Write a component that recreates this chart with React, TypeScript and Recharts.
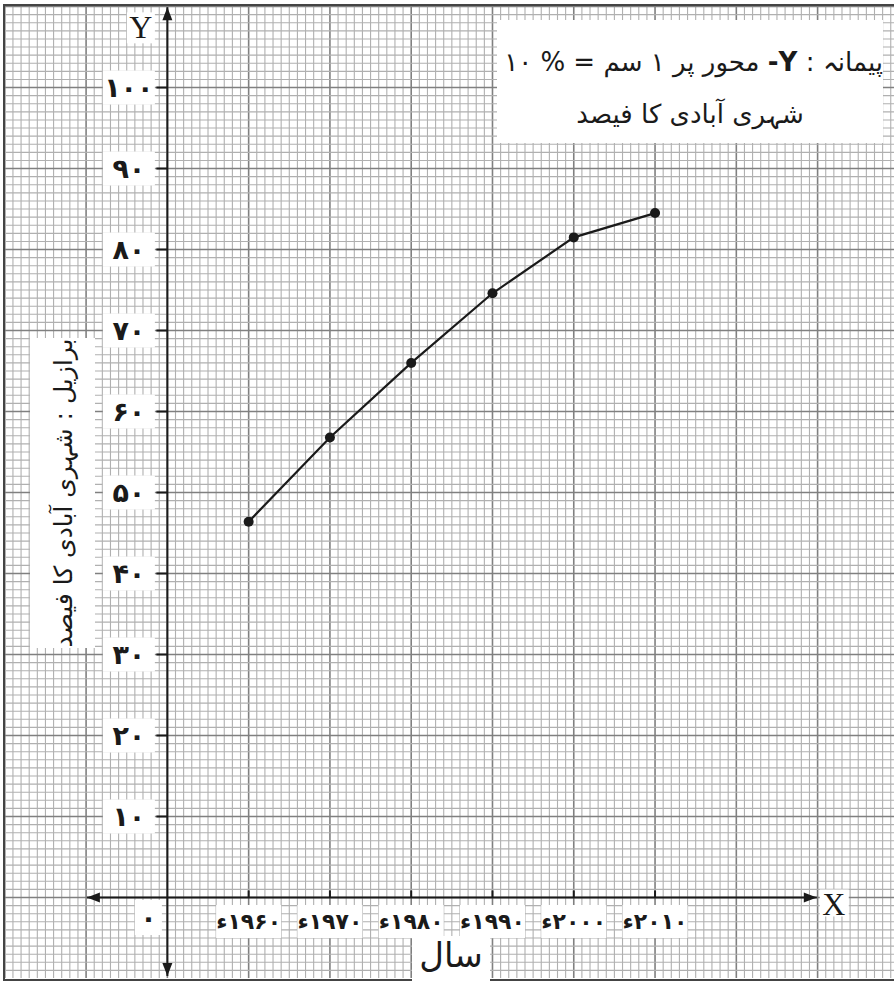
import React from 'react'
import {
  ComposedChart,
  Line,
  XAxis,
  YAxis,
  ReferenceLine,
  ReferenceDot,
} from 'recharts'

// Brazil: urban population share (%)
const years = [1960, 1970, 1980, 1990, 2000, 2010]
const urbanShare = [46.4, 56.8, 66.0, 74.6, 81.5, 84.5]
const yearLabels = ['۱۹۶۰ء', '۱۹۷۰ء', '۱۹۸۰ء', '۱۹۹۰ء', '۲۰۰۰ء', '۲۰۱۰ء']

const yTicks = [10, 20, 30, 40, 50, 60, 70, 80, 90, 100]
const yTickLabels = ['۱۰', '۲۰', '۳۰', '۴۰', '۵۰', '۶۰', '۷۰', '۸۰', '۹۰', '۱۰۰']
const originLabel = '۰'

const titleLine1 = 'پیمانہ : '
const titleAxis = 'Y-'
const titleLine1b = ' محور پر ۱ سم = % ۱۰'
const titleLine2 = 'شہری آبادی کا فیصد'
const yAxisTitle = 'برازیل : شہری آبادی کا فیصد'
const xAxisTitle = 'سال'

const ORIGIN_X = 1950
const X_DOMAIN: [number, number] = [1929.9, 2039.4]
const Y_DOMAIN: [number, number] = [-9.94, 110.19]
const X_ARROWS = [1940.1, 2029.9]
const Y_ARROWS = [-9.7, 109.9]

const data = years.map((year, i) => ({ year, share: urbanShare[i] }))

// graph paper lines, one per unit
const gridX: number[] = []
for (let v = Math.ceil(X_DOMAIN[0]); v <= X_DOMAIN[1]; v++) gridX.push(v)
const gridY: number[] = []
for (let v = Math.ceil(Y_DOMAIN[0]); v <= Y_DOMAIN[1]; v++) gridY.push(v)

const URDU = '"DejaVu Sans", "Noto Sans", sans-serif'
const SERIF = '"Liberation Serif", "DejaVu Serif", serif'
const INK = '#1a1a1a'

const yTickShape = (label: string) => (props: any) => {
  const { cx, cy } = props
  return (
    <g>
      <rect x={cx - 64.5} y={cy - 17} width={52} height={34} fill="#fff" />
      <line x1={cx - 11} x2={cx} y1={cy} y2={cy} stroke={INK} strokeWidth={2} />
      <text
        x={cx - 38.5}
        y={cy}
        dy="0.36em"
        textAnchor="middle"
        fontFamily={URDU}
        fontWeight="bold"
        fontSize={27}
        fill={INK}
      >
        {label}
      </text>
    </g>
  )
}

const xTickShape = (label: string) => (props: any) => {
  const { cx, cy } = props
  return (
    <g>
      <rect x={cx - 32.5} y={cy + 7.5} width={65} height={33} fill="#fff" />
      <line x1={cx} x2={cx} y1={cy - 7} y2={cy} stroke={INK} strokeWidth={2} />
      <text
        x={cx}
        y={cy + 24}
        dy="0.35em"
        textAnchor="middle"
        direction="rtl"
        fontFamily={URDU}
        fontWeight="bold"
        fontSize={22}
        fill={INK}
      >
        {label}
      </text>
    </g>
  )
}

const originShape = (props: any) => {
  const { cx, cy } = props
  return (
    <g>
      <rect x={cx - 32.5} y={cy + 2.5} width={27} height={35} fill="#fff" />
      <text
        x={cx - 19}
        y={cy + 20}
        dy="0.35em"
        textAnchor="middle"
        fontFamily={URDU}
        fontWeight="bold"
        fontSize={27}
        fill={INK}
      >
        {originLabel}
      </text>
    </g>
  )
}

const arrowShape = (dir: 'up' | 'down' | 'left' | 'right') => (props: any) => {
  const { cx, cy } = props
  const L = 13
  const W = 5
  let pts = ''
  if (dir === 'up') pts = `${cx},${cy} ${cx - W},${cy + L} ${cx + W},${cy + L}`
  if (dir === 'down') pts = `${cx},${cy} ${cx - W},${cy - L} ${cx + W},${cy - L}`
  if (dir === 'left') pts = `${cx},${cy} ${cx + L},${cy - W} ${cx + L},${cy + W}`
  if (dir === 'right') pts = `${cx},${cy} ${cx - L},${cy - W} ${cx - L},${cy + W}`
  return <polygon points={pts} fill={INK} />
}

const yLetterShape = (props: any) => {
  const { cx, cy } = props
  return (
    <g>
      <rect x={cx - 40.5} y={cy + 5} width={28} height={31} fill="#fff" />
      <text x={cx - 26.5} y={cy + 31} textAnchor="middle" fontFamily={SERIF} fontSize={32} fill={INK}>
        Y
      </text>
    </g>
  )
}

const xLetterShape = (props: any) => {
  const { cx, cy } = props
  return (
    <g>
      <rect x={cx + 3} y={cy - 8} width={29} height={27} fill="#fff" />
      <text x={cx + 17} y={cy + 17.5} textAnchor="middle" fontFamily={SERIF} fontSize={32} fill={INK}>
        X
      </text>
    </g>
  )
}

export default function App() {
  return (
    <div style={{ position: 'relative', width: 894, height: 981, background: '#fff', overflow: 'hidden' }}>
      <style>{'body{margin:0}'}</style>
      <ComposedChart
        width={894}
        height={981}
        data={data}
        margin={{ top: 5, right: 0, bottom: 3, left: 4 }}
      >
        <XAxis type="number" dataKey="year" domain={X_DOMAIN} allowDataOverflow hide />
        <YAxis type="number" domain={Y_DOMAIN} allowDataOverflow hide />

        {gridX.map((v) => (
          <ReferenceLine
            key={`gx${v}`}
            x={v}
            stroke={(v - ORIGIN_X) % 10 === 0 ? '#808080' : '#b0b0b0'}
            strokeWidth={(v - ORIGIN_X) % 10 === 0 ? 1.6 : 1.1}
          />
        ))}
        {gridY.map((v) => (
          <ReferenceLine
            key={`gy${v}`}
            y={v}
            stroke={v % 10 === 0 ? '#808080' : '#b0b0b0'}
            strokeWidth={v % 10 === 0 ? 1.6 : 1.1}
          />
        ))}

        {/* axes */}
        <ReferenceLine
          segment={[{ x: X_ARROWS[0], y: 0 }, { x: X_ARROWS[1], y: 0 }]}
          stroke={INK}
          strokeWidth={2}
        />
        <ReferenceLine
          segment={[{ x: ORIGIN_X, y: Y_ARROWS[0] }, { x: ORIGIN_X, y: Y_ARROWS[1] }]}
          stroke={INK}
          strokeWidth={2}
        />
        <ReferenceDot x={X_ARROWS[0]} y={0} shape={arrowShape('left')} />
        <ReferenceDot x={X_ARROWS[1]} y={0} shape={arrowShape('right')} />
        <ReferenceDot x={ORIGIN_X} y={Y_ARROWS[0]} shape={arrowShape('down')} />
        <ReferenceDot x={ORIGIN_X} y={Y_ARROWS[1]} shape={arrowShape('up')} />
        <ReferenceDot x={ORIGIN_X} y={Y_ARROWS[1]} shape={yLetterShape} />
        <ReferenceDot x={X_ARROWS[1]} y={0} shape={xLetterShape} />

        {yTicks.map((v, i) => (
          <ReferenceDot key={`yt${v}`} x={ORIGIN_X} y={v} shape={yTickShape(yTickLabels[i])} />
        ))}
        {years.map((yr, i) => (
          <ReferenceDot key={`xt${yr}`} x={yr} y={0} shape={xTickShape(yearLabels[i])} />
        ))}
        <ReferenceDot x={ORIGIN_X} y={0} shape={originShape} />

        <Line
          type="linear"
          dataKey="share"
          stroke={INK}
          strokeWidth={2.2}
          dot={{ r: 5, fill: INK, stroke: INK, strokeWidth: 0 }}
          isAnimationActive={false}
        />
      </ComposedChart>

      {/* border of the sheet */}
      <div
        style={{
          position: 'absolute',
          left: 3,
          top: 4,
          width: 910,
          height: 973,
          border: '2px solid #444',
          pointerEvents: 'none',
        }}
      />

      {/* scale note */}
      <div
        style={{
          position: 'absolute',
          left: 497,
          top: 20,
          width: 386,
          height: 123,
          background: '#fff',
          direction: 'rtl',
          fontFamily: URDU,
          color: INK,
          textAlign: 'center',
        }}
      >
        <div
          style={{
            position: 'absolute',
            left: 20,
            right: 0,
            top: 24,
            fontSize: 26,
            lineHeight: '36px',
            whiteSpace: 'nowrap',
          }}
        >
          {titleLine1}
          <b>{titleAxis}</b>
          {titleLine1b}
        </div>
        <div
          style={{
            position: 'absolute',
            left: 0,
            right: 0,
            top: 76,
            fontSize: 26,
            lineHeight: '36px',
            whiteSpace: 'nowrap',
          }}
        >
          {titleLine2}
        </div>
      </div>

      {/* y axis title */}
      <div
        style={{
          position: 'absolute',
          left: 30,
          top: 338,
          width: 65,
          height: 310,
          background: '#fff',
        }}
      >
        <div
          style={{
            position: 'absolute',
            left: 32.5,
            top: 155,
            transform: 'translate(-50%, -50%) rotate(-90deg)',
            whiteSpace: 'nowrap',
            direction: 'rtl',
            fontFamily: URDU,
            fontSize: 25,
            color: INK,
          }}
        >
          {yAxisTitle}
        </div>
      </div>

      {/* x axis title */}
      <div
        style={{
          position: 'absolute',
          left: 412,
          top: 936,
          width: 78,
          height: 45,
          background: '#fff',
          fontFamily: URDU,
          fontSize: 34,
          lineHeight: '38px',
          textAlign: 'center',
          color: INK,
          direction: 'rtl',
        }}
      >
        {xAxisTitle}
      </div>
    </div>
  )
}
